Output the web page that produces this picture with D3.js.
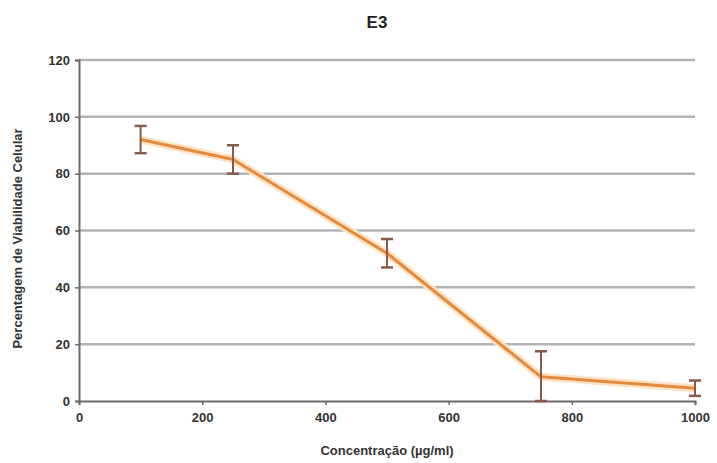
<!DOCTYPE html>
<meta charset="utf-8">
<style>
  body { margin: 0; background: #fff; }
  svg { font-family: "Liberation Sans", Arial, sans-serif; }
</style>
<body>
<svg></svg>
<script src="https://d3js.org/d3.v7.min.js"></script>
<script>
// data
var concentrations = [100, 250, 500, 750, 1000];
var viability = [92, 85, 52, 8.5, 4.5];
var errors = [4.8, 5, 5, 9, 2.7];
var xTicks = [0, 200, 400, 600, 800, 1000];
var yTicks = [0, 20, 40, 60, 80, 100, 120];

var width = 717, height = 463;
var margin = {top: 60, right: 22, bottom: 62, left: 79};

var svg = d3.select('svg')
    .attr('width', width)
    .attr('height', height);

var x = d3.scaleLinear().domain([0, 1000]).range([margin.left, width - margin.right]);
var y = d3.scaleLinear().domain([0, 120]).range([height - margin.bottom, margin.top]);

// gridlines
svg.append('g')
    .selectAll('line')
    .data(yTicks.slice(1))
    .enter().append('line')
    .attr('x1', x(0)).attr('x2', x(1000))
    .attr('y1', function (d) { return y(d); })
    .attr('y2', function (d) { return y(d); })
    .style('stroke', '#b3b3b3')
    .style('stroke-width', 2.5);

// axes
var xAxis = svg.append('g')
    .attr('transform', 'translate(0,' + y(0) + ')')
    .call(d3.axisBottom(x).tickValues(xTicks).tickFormat(d3.format('d')).tickSize(4).tickPadding(8));
var yAxis = svg.append('g')
    .attr('transform', 'translate(' + x(0) + ',0)')
    .call(d3.axisLeft(y).tickValues(yTicks).tickFormat(d3.format('d')).tickSize(4).tickPadding(5));

[xAxis, yAxis].forEach(function (a) {
    a.select('.domain').style('stroke', '#6b6b6b').style('stroke-width', 2);
    a.selectAll('.tick line').style('stroke', '#6b6b6b').style('stroke-width', 1.5);
    a.selectAll('text').style('font-size', '13px').style('font-weight', 'bold').style('fill', '#333');
});

var pts = concentrations.map(function (c, i) { return [c, viability[i], errors[i]]; });

var line = d3.line()
    .x(function (d) { return x(d[0]); })
    .y(function (d) { return y(d[1]); });

// soft glow behind the line
svg.append('path')
    .datum(pts)
    .attr('d', line)
    .style('fill', 'none')
    .style('stroke', '#fde3c6')
    .style('stroke-width', 8)
    .style('stroke-linejoin', 'round');

svg.append('path')
    .datum(pts)
    .attr('d', line)
    .style('fill', 'none')
    .style('stroke', '#e58a3c')
    .style('stroke-width', 3)
    .style('stroke-linejoin', 'round');

// error bars
var eb = svg.append('g').selectAll('g')
    .data(pts)
    .enter().append('g')
    .style('stroke', '#8a5a48');

eb.append('line')
    .attr('x1', function (d) { return x(d[0]); })
    .attr('x2', function (d) { return x(d[0]); })
    .attr('y1', function (d) { return y(Math.min(120, d[1] + d[2])); })
    .attr('y2', function (d) { return y(Math.max(0, d[1] - d[2])); })
    .style('stroke-width', 2);

eb.selectAll('.cap')
    .data(function (d) { return [[d[0], d[1] + d[2]], [d[0], Math.max(0, d[1] - d[2])]]; })
    .enter().append('line')
    .attr('class', 'cap')
    .attr('x1', function (d) { return x(d[0]) - 6; })
    .attr('x2', function (d) { return x(d[0]) + 6; })
    .attr('y1', function (d) { return y(d[1]); })
    .attr('y2', function (d) { return y(d[1]); })
    .style('stroke-width', 2.5);

// title and labels
svg.append('text')
    .attr('x', 377).attr('y', 28)
    .attr('text-anchor', 'middle')
    .style('font-size', '17px')
    .style('font-weight', 'bold')
    .style('fill', '#222')
    .text('E3');

svg.append('text')
    .attr('x', (x(0) + x(1000)) / 2).attr('y', 455)
    .attr('text-anchor', 'middle')
    .style('font-size', '13px')
    .style('font-weight', 'bold')
    .style('fill', '#333')
    .text('Concentração (µg/ml)');

svg.append('text')
    .attr('transform', 'translate(22,' + ((y(0) + y(120)) / 2 + 8) + ')rotate(-90)')
    .attr('text-anchor', 'middle')
    .style('font-size', '13px')
    .style('font-weight', 'bold')
    .style('fill', '#333')
    .text('Percentagem de Viabilidade Celular');
</script>
</body>
